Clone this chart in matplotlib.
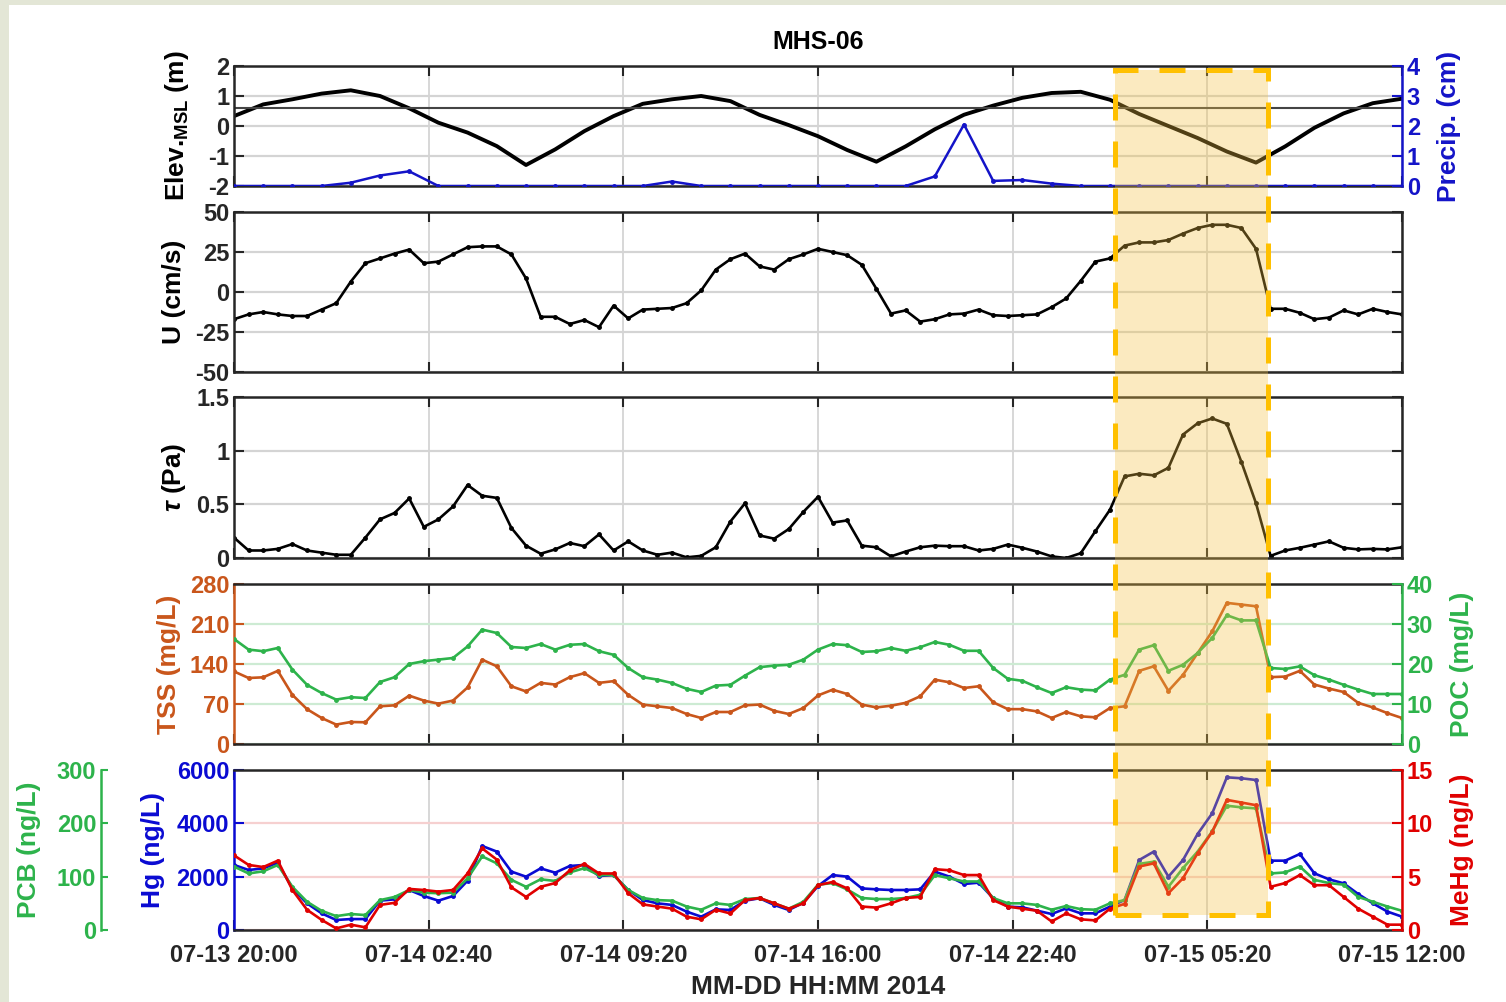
import pandas as pd
import matplotlib
matplotlib.use('Agg')
import matplotlib.pyplot as plt
import matplotlib.dates as mdates
import matplotlib.transforms as mtransforms
from matplotlib.patches import Rectangle

plt.rcParams['font.family'] = ['Liberation Sans', 'DejaVu Sans']
plt.rcParams['font.weight'] = 'bold'
plt.rcParams['axes.unicode_minus'] = False
plt.rcParams['mathtext.fontset'] = 'custom'
plt.rcParams['mathtext.rm'] = 'Liberation Sans'
plt.rcParams['mathtext.bf'] = 'Liberation Sans:bold'
plt.rcParams['mathtext.it'] = 'Liberation Sans:italic'

# ---- data ----
t_start = '2014-07-13 20:00'
t_end = '2014-07-15 12:00'
times = pd.date_range(t_start, t_end, freq='30min')      # 81 samples
hours = pd.date_range(t_start, t_end, freq='60min')      # 41 samples
tick_times = pd.date_range(t_start, t_end, freq='400min')

elev = [0.33, 0.72, 0.89, 1.08, 1.19, 1.0, 0.59, 0.11, -0.22, -0.67,
        -1.3, -0.78, -0.17, 0.33, 0.74, 0.89, 1.0, 0.83, 0.37, 0.03,
        -0.34, -0.8, -1.19, -0.68, -0.11, 0.375, 0.68, 0.94, 1.10, 1.14,
        0.875, 0.40, 0.0, -0.4, -0.85, -1.22, -0.68, -0.06, 0.42, 0.76, 0.91]
ref_level = 0.6

precip = [0, 0, 0, 0, 0.11, 0.35, 0.49, 0, 0, 0,
          0, 0, 0, 0, 0, 0.15, 0, 0, 0, 0,
          0, 0, 0, 0, 0.32, 2.05, 0.17, 0.2, 0.08, 0,
          0, 0, 0, 0, 0, 0, 0, 0, 0, 0, 0]

U = [-17, -14, -12.5, -14, -15, -15, -11, -7, 6.5, 18,
     21, 24, 26.5, 18, 19, 23.5, 28, 28.5, 28.5, 23.5,
     8.5, -15.5, -15.5, -20, -17.5, -22, -8.5, -16.5, -11, -10.5,
     -10, -7, 1, 14, 20.5, 24, 16, 14, 20.5, 23.5,
     27, 25, 23, 17, 2, -13.5, -11.5, -18.5, -17, -14,
     -13.5, -11, -14.5, -15, -14.5, -14, -9.5, -4, 7, 19,
     21, 29, 31, 31, 32.5, 36.5, 40, 42, 42, 40,
     27, -10.5, -10.5, -13, -17, -16, -11.5, -14, -10.5, -12.5, -14]

tau = [0.19, 0.07, 0.07, 0.085, 0.13, 0.07, 0.05, 0.03, 0.03, 0.19,
       0.36, 0.42, 0.555, 0.29, 0.36, 0.48, 0.68, 0.58, 0.56, 0.28,
       0.115, 0.04, 0.08, 0.14, 0.11, 0.22, 0.07, 0.155, 0.07, 0.03,
       0.05, 0.006, 0.02, 0.10, 0.34, 0.51, 0.21, 0.18, 0.27, 0.43,
       0.57, 0.33, 0.35, 0.115, 0.10, 0.015, 0.06, 0.10, 0.115, 0.11,
       0.11, 0.07, 0.085, 0.125, 0.095, 0.06, 0.015, 0.0, 0.045, 0.25,
       0.45, 0.76, 0.785, 0.77, 0.84, 1.15, 1.255, 1.30, 1.25, 0.895,
       0.51, 0.02, 0.07, 0.095, 0.125, 0.155, 0.095, 0.08, 0.085, 0.08, 0.10]

tss = [127, 115.5, 116.7, 128, 86, 61, 45.5, 34, 38.5, 38,
       66, 67.7, 84.6, 76, 70.6, 76, 99, 147.6, 136, 101,
       92, 107, 104, 117, 124, 107, 110, 86, 69, 66,
       63, 52.5, 45.5, 56, 56, 67.7, 69, 58, 52.5, 63,
       85, 95, 87.5, 69, 64, 67, 72, 83.5, 112.6, 108,
       98, 101, 73, 61, 61, 57, 45.5, 56, 48.4, 46.7,
       63, 66, 128, 136, 93, 121, 159, 197, 247, 244,
       241, 117, 118, 128, 104, 97, 91, 72, 64, 54, 45.5]

poc = [26.25, 23.6, 23.2, 24, 18.6, 14.8, 12.75, 11.1, 11.7, 11.5,
       15.5, 16.7, 20, 20.7, 21.1, 21.5, 24.4, 28.6, 27.75, 24.25,
       24, 25, 23.6, 24.8, 25, 23.2, 22.3, 19, 16.7, 16.1,
       15.25, 13.8, 13, 14.6, 14.8, 17.1, 19.2, 19.6, 19.8, 21.1,
       23.6, 25, 24.7, 23, 23.2, 24, 23.3, 24.2, 25.5, 24.8,
       23.3, 23.3, 19, 16.3, 15.8, 14.2, 12.75, 14.2, 13.6, 13.4,
       16.1, 17.3, 23.6, 24.7, 18.3, 19.8, 22.75, 26.5, 32.2, 30.9,
       30.9, 19, 18.75, 19.4, 17.2, 16.1, 14.8, 13.6, 12.5, 12.5, 12.5]

hg = [2440, 2250, 2310, 2525, 1560, 1000, 625, 375, 410, 410,
      1100, 1150, 1500, 1275, 1100, 1275, 1850, 3150, 2940, 2190,
      2000, 2310, 2150, 2400, 2440, 2025, 2060, 1500, 1125, 1000,
      940, 690, 500, 775, 750, 1100, 1190, 940, 750, 1025,
      1650, 2060, 2000, 1560, 1525, 1500, 1500, 1525, 2190, 2000,
      1725, 1775, 1190, 875, 850, 725, 600, 810, 625, 625,
      875, 1125, 2625, 2940, 2000, 2625, 3600, 4375, 5725, 5690,
      5625, 2600, 2600, 2850, 2125, 1900, 1750, 1350, 1000, 690, 500]

mehg = [7.0, 6.1, 5.9, 6.5, 3.75, 1.9, 0.95, 0.15, 0.5, 0.25,
        2.35, 2.55, 3.85, 3.75, 3.6, 3.75, 5.3, 7.65, 6.6, 4.0,
        3.1, 4.05, 4.4, 5.6, 6.2, 5.3, 5.3, 3.45, 2.4, 2.2,
        2.0, 1.25, 1.0, 1.9, 1.55, 2.8, 3.0, 2.5, 2.0, 2.5,
        4.2, 4.5, 3.9, 2.2, 2.1, 2.5, 3.0, 3.1, 5.7, 5.6,
        5.15, 5.15, 2.8, 2.2, 2.0, 1.8, 0.8, 1.55, 1.0, 0.9,
        2.0, 2.45, 5.95, 6.25, 3.45, 4.85, 7.2, 9.2, 12.2, 11.95,
        11.7, 4.05, 4.4, 5.15, 4.2, 4.2, 3.1, 2.0, 1.25, 0.5, 0.5]

pcb = [119, 106, 110, 122, 81, 53, 36, 26, 30, 28,
       56, 62, 75, 70, 69, 70, 97, 138, 125, 94,
       81, 95, 92, 108, 116, 103, 103, 75, 60, 56,
       55, 44, 38, 50, 47, 58, 60, 50, 40, 53,
       85, 88, 76, 60, 58, 58, 60, 66, 103, 97,
       91, 91, 60, 50, 50, 47, 38, 45, 39, 38,
       50, 56, 124, 128, 81, 116, 147, 185, 233, 230,
       228, 106, 108, 119, 94, 88, 85, 62, 53, 44, 36]

hl_start = '2014-07-15 02:10'
hl_end = '2014-07-15 07:25'

# ---- colours ----
c_dark = '#262626'
c_grid = '#d4d4d4'
c_tss = '#c9561b'
c_poc = '#2db34b'
c_hg = '#0a0ad2'
c_mehg = '#e00000'
c_pcb = '#2db34b'
c_rain = '#1414c8'

fig = plt.figure(figsize=(15.06, 10.02), dpi=100, facecolor='#e3e6d6')
fig.add_artist(Rectangle((9 / 1506, 0), 1 - 9 / 1506, 1 - 5 / 1002,
                         transform=fig.transFigure, facecolor='white',
                         edgecolor='none', zorder=-5))

left, width = 234 / 1506, 1168 / 1506
rows = [(66, 186), (212, 372), (397, 558), (584, 744), (770, 930)]
axes = []
for top, bot in rows:
    axes.append(fig.add_axes([left, 1 - bot / 1002, width, (bot - top) / 1002]))
ax1, ax2, ax3, ax4, ax5 = axes

TS = 17
LS = 19


def base_style(ax, ygrid_color=c_grid):
    for s in ax.spines.values():
        s.set_linewidth(1.8)
        s.set_color(c_dark)
    ax.tick_params(axis='both', direction='in', length=7, width=1.5,
                   labelsize=TS, colors=c_dark, top=True, right=True)
    ax.set_xlim(times[0], times[-1])
    ax.set_xticks(tick_times)
    ax.xaxis.set_major_formatter(mdates.DateFormatter('%m-%d %H:%M'))
    ax.xaxis.grid(True, color=c_grid, lw=1.3)
    ax.yaxis.grid(True, color=ygrid_color, lw=1.6)
    ax.set_axisbelow(True)
    if ax is not ax5:
        ax.tick_params(axis='x', labelbottom=False)


# panel 1: elevation + precipitation
base_style(ax1)
ax1.plot(hours, elev, color='black', lw=2.8)
ax1.axhline(ref_level, color='#444444', lw=1.5)
ax1.set_ylim(-2, 2)
ax1.set_yticks([-2, -1, 0, 1, 2])
ax1.set_ylabel('Elev.$_{\\mathbf{MSL}}$ (m)', fontsize=LS, fontweight='bold')
ax1.yaxis.set_label_coords(-0.037, 0.5)
ax1.set_title('MHS-06', fontsize=18, fontweight='bold', pad=12)
ax1r = ax1.twinx()
ax1r.plot(hours, precip, color=c_rain, lw=1.8, marker='.', ms=5)
ax1r.set_ylim(0, 4)
ax1r.set_yticks([0, 1, 2, 3, 4])
ax1r.tick_params(direction='in', length=7, width=1.5, labelsize=TS, colors=c_rain)
for k in ['left', 'top', 'bottom']:
    ax1r.spines[k].set_visible(False)
ax1r.spines['right'].set_color(c_rain)
ax1r.spines['right'].set_linewidth(1.8)
ax1.spines['right'].set_visible(False)
ax1r.set_ylabel('Precip. (cm)', color=c_rain, fontsize=LS, fontweight='bold')
ax1r.yaxis.set_label_coords(1.030, 0.5)

# panel 2: velocity
base_style(ax2)
ax2.plot(times, U, color='black', lw=1.9, marker='.', ms=5)
ax2.set_ylim(-50, 50)
ax2.set_yticks([-50, -25, 0, 25, 50])
ax2.set_ylabel('U (cm/s)', fontsize=LS, fontweight='bold')
ax2.yaxis.set_label_coords(-0.041, 0.5)

# panel 3: bed shear stress
base_style(ax3)
ax3.plot(times, tau, color='black', lw=1.9, marker='.', ms=5)
ax3.set_ylim(0, 1.5)
ax3.set_yticks([0, 0.5, 1, 1.5])
ax3.set_yticklabels(['0', '0.5', '1', '1.5'])
ax3.set_ylabel('$\\tau$ (Pa)', fontsize=LS, fontweight='bold')
ax3.yaxis.set_label_coords(-0.039, 0.5)

# panel 4: TSS + POC
base_style(ax4, ygrid_color='#cdebd3')
ax4.plot(times, tss, color=c_tss, lw=1.9, marker='.', ms=5)
ax4.set_ylim(0, 280)
ax4.set_yticks([0, 70, 140, 210, 280])
ax4.tick_params(axis='y', colors=c_tss, right=False)
ax4.spines['left'].set_color(c_tss)
ax4.spines['right'].set_visible(False)
ax4.set_ylabel('TSS (mg/L)', color=c_tss, fontsize=LS, fontweight='bold')
ax4.yaxis.set_label_coords(-0.045, 0.5)
ax4r = ax4.twinx()
ax4r.plot(times, poc, color=c_poc, lw=1.9, marker='.', ms=5)
ax4r.set_ylim(0, 40)
ax4r.set_yticks([0, 10, 20, 30, 40])
ax4r.tick_params(direction='in', length=7, width=1.5, labelsize=TS, colors=c_poc)
for k in ['left', 'top', 'bottom']:
    ax4r.spines[k].set_visible(False)
ax4r.spines['right'].set_color(c_poc)
ax4r.spines['right'].set_linewidth(1.8)
ax4r.set_ylabel('POC (mg/L)', color=c_poc, fontsize=LS, fontweight='bold')
ax4r.yaxis.set_label_coords(1.041, 0.5)

# panel 5: Hg, MeHg, PCB
base_style(ax5, ygrid_color='#f6d0d0')
ax5.plot(times, hg, color=c_hg, lw=1.9, marker='.', ms=5)
ax5.set_ylim(0, 6000)
ax5.set_yticks([0, 2000, 4000, 6000])
ax5.tick_params(axis='y', colors=c_hg, right=False)
ax5.tick_params(axis='x', pad=10)
ax5.spines['left'].set_color(c_hg)
ax5.spines['right'].set_visible(False)
ax5.set_ylabel('Hg (ng/L)', color=c_hg, fontsize=LS, fontweight='bold')
ax5.yaxis.set_label_coords(-0.059, 0.5)
ax5.set_xlabel('MM-DD HH:MM 2014', fontsize=LS, fontweight='bold',
               color=c_dark, labelpad=6)

ax5p = ax5.twinx()
ax5p.plot(times, pcb, color=c_pcb, lw=1.9, marker='.', ms=5)
ax5p.set_ylim(0, 300)
ax5p.set_yticks([0, 100, 200, 300])
ax5p.yaxis.tick_left()
ax5p.yaxis.set_label_position('left')
ax5p.spines['left'].set_position(('axes', -(234 - 101) / 1168))
ax5p.spines['left'].set_visible(True)
ax5p.spines['left'].set_color(c_pcb)
ax5p.spines['left'].set_linewidth(1.8)
for k in ['right', 'top', 'bottom']:
    ax5p.spines[k].set_visible(False)
ax5p.tick_params(direction='in', length=5, width=1.5, labelsize=TS, colors=c_pcb)
ax5p.set_ylabel('PCB (ng/L)', color=c_pcb, fontsize=LS, fontweight='bold')
ax5p.yaxis.set_label_coords(-0.165, 0.5)

ax5r = ax5.twinx()
ax5r.plot(times, mehg, color=c_mehg, lw=1.9, marker='.', ms=5)
ax5r.set_ylim(0, 15)
ax5r.set_yticks([0, 5, 10, 15])
ax5r.tick_params(direction='in', length=7, width=1.5, labelsize=TS, colors=c_mehg)
for k in ['left', 'top', 'bottom']:
    ax5r.spines[k].set_visible(False)
ax5r.spines['right'].set_color(c_mehg)
ax5r.spines['right'].set_linewidth(1.8)
ax5r.set_ylabel('MeHg (ng/L)', color=c_mehg, fontsize=LS, fontweight='bold')
ax5r.yaxis.set_label_coords(1.041, 0.5)

# highlighted storm window spanning all panels
x0 = mdates.date2num(pd.Timestamp(hl_start))
x1 = mdates.date2num(pd.Timestamp(hl_end))
blend = mtransforms.blended_transform_factory(ax5.transData, fig.transFigure)
y0, y1 = 1 - 915 / 1002, 1 - 70 / 1002
fig.add_artist(Rectangle((x0, y0), x1 - x0, y1 - y0, transform=blend,
                         facecolor='#f5c242', alpha=0.33, edgecolor='none',
                         zorder=10))
fig.add_artist(Rectangle((x0, y0), x1 - x0, y1 - y0, transform=blend,
                         facecolor='none', edgecolor='#ffc000', lw=3.6,
                         linestyle=(0, (5.2, 4.2)), zorder=11))

fig.savefig('out.png', dpi=100, facecolor=fig.get_facecolor())
